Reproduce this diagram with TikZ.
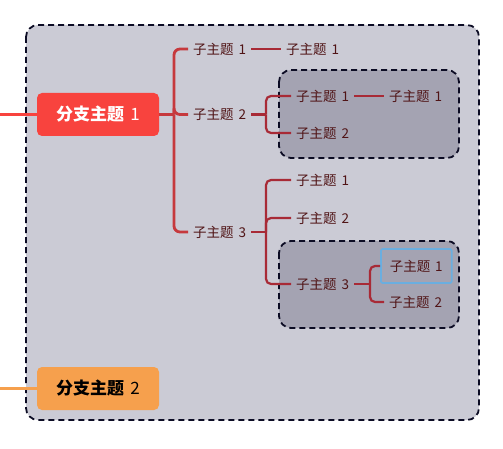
\documentclass[tikz,border=0pt]{standalone}
\usepackage{fontspec}
\setmainfont{Noto Sans CJK SC}[WordSpace=1.6]
\definecolor{boxfill}{RGB}{203,203,213}
\definecolor{groupfill}{RGB}{164,163,178}
\definecolor{dashline}{RGB}{12,12,36}
\definecolor{branchA}{RGB}{248,67,62}
\definecolor{branchB}{RGB}{246,160,77}
\definecolor{linkA}{RGB}{198,57,61}
\definecolor{linkB}{RGB}{168,42,54}
\definecolor{subtext}{RGB}{80,20,22}
\definecolor{selected}{RGB}{106,174,224}

\begin{document}
\begin{tikzpicture}[x=1pt,y=-1pt,
    every node/.style={font=\fontsize{13.5}{15}\selectfont},
    branch/.style={rounded corners=5pt, minimum width=122pt, minimum height=43pt,
        font=\fontsize{17}{19}\selectfont},
    sub/.style={anchor=west, inner xsep=5pt, inner ysep=3pt, text=subtext},
    group/.style={draw=dashline, line width=1.8pt, dash pattern=on 6pt off 4pt,
        rounded corners=12pt},
    link/.style={draw=linkA, line width=2.8pt},
    sublink/.style={draw=linkB, line width=2.2pt, rounded corners=5pt}]
\useasboundingbox (0,0) rectangle (503,449);

% boxes
\draw[group, fill=boxfill] (26,25) rectangle (479,420);
\draw[group, fill=groupfill] (279,70) rectangle (459,158);
\draw[group, fill=groupfill] (279,241) rectangle (459,328);

% branches
\node[branch, fill=branchA, text=white] (b1) at (98,114.5) {\textbf{分支主题} 1};
\node[branch, fill=branchB, text=black] (b2) at (98,388.5) {\textbf{分支主题} 2};
\coordinate (in1) at (0,114.5);
\coordinate (in2) at (0,388.5);

% sub topics
\node[sub] (s1) at (188,49) {子主题 1};
\node[sub] (s2) at (188,114.5) {子主题 2};
\node[sub] (s3) at (188,232) {子主题 3};
\node[sub] (s1a) at (281,49) {子主题 1};
\node[sub] (s2a) at (291,96) {子主题 1};
\node[sub] (s2b) at (291,133) {子主题 2};
\node[sub] (s2aa) at (384,96) {子主题 1};
\node[sub] (s3a) at (291,180) {子主题 1};
\node[sub] (s3b) at (291,218) {子主题 2};
\node[sub] (s3c) at (291,284) {子主题 3};
\node[sub, draw=selected, line width=1.8pt, rounded corners=2pt,
    inner xsep=9pt, minimum height=34pt] (s3ca) at (380,266) {子主题 1};
\node[sub] (s3cb) at (384,302) {子主题 2};

\coordinate (j1) at (174,114.5);
\coordinate (j2) at (266,114.5);
\coordinate (j3) at (266,232);
\coordinate (j4) at (370,284);

% connectors
\draw[branchA, line width=2.4pt] (in1) -- (b1.west);
\draw[branchB, line width=2.4pt] (in2) -- (b2.west);
\draw[link] (b1.east) -- (j1);
\foreach \n in {s1,s2,s3}
    \draw[link, rounded corners=6pt] (j1) |- (\n.west);
\draw[sublink] (s1.east) -- (s1a.west);
\draw[sublink] (s2.east) -- (j2);
\foreach \n in {s2a,s2b}
    \draw[sublink] (j2) |- (\n.west);
\draw[sublink] (s2a.east) -- (s2aa.west);
\draw[sublink] (s3.east) -- (j3);
\foreach \n in {s3a,s3b,s3c}
    \draw[sublink] (j3) |- (\n.west);
\draw[sublink] (s3c.east) -- (j4);
\foreach \n in {s3ca,s3cb}
    \draw[sublink] (j4) |- (\n.west);
\end{tikzpicture}
\end{document}
